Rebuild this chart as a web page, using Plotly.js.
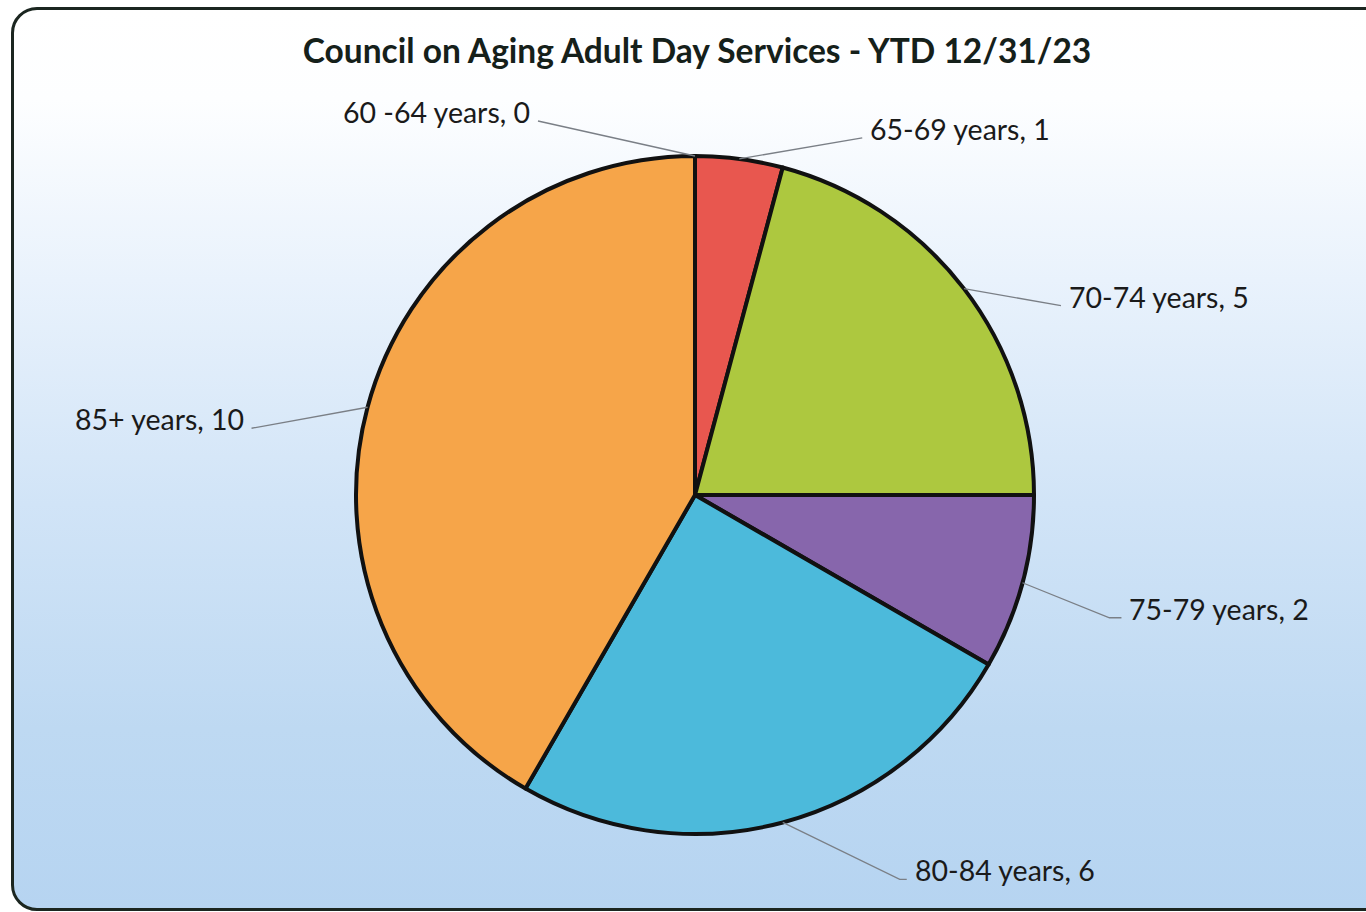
<!DOCTYPE html>
<html>
<head>
<meta charset="utf-8">
<script src="https://cdn.plot.ly/plotly-3.0.1.min.js"></script>
<style>
  html, body { margin: 0; padding: 0; background: #ffffff; }
  #wrap { position: relative; width: 1366px; height: 912px; overflow: hidden; background: #ffffff; }
  #frame {
    position: absolute; left: 11px; top: 7px; width: 1420px; height: 898px;
    border: 3px solid #1b2620; border-radius: 26px;
    background: linear-gradient(to bottom, #ffffff 0%, #fdfeff 10%, #e9f2fc 30%, #d1e4f7 55%, #bed9f2 80%, #b6d4f1 100%);
  }
  #chart { position: absolute; left: 0; top: 0; width: 1366px; height: 912px; }
</style>
</head>
<body>
<div id="wrap">
  <div id="frame"></div>
  <div id="chart"></div>
</div>
<script>
// ---- data ----
const categories = ["60 -64 years", "65-69 years", "70-74 years", "75-79 years", "80-84 years", "85+ years"];
const counts = [0, 1, 5, 2, 6, 10];
const sliceColors = ["#c0504d", "#e8574f", "#adc83f", "#8766ac", "#4cbadb", "#f6a549"];
const chartTitle = "Council on Aging Adult Day Services - YTD 12/31/23";

// ---- label placement (pixel offsets from each slice's outer-edge midpoint) ----
const leaderTail = [[-157, -35], [123, -21], [97, 17], [99, 35], [124, 57], [-116, 21]];
const leaderBend = [null, null, null, [87, 35], [117, 57], null];

// ---- geometry ----
const W = 1366, H = 912;
const CX = 695, CY = 495, R = 339;

const total = counts.reduce((a, b) => a + b, 0);
let cum = 0;
const shapes = [];
const annotations = [];
const px = x => x / W;
const py = y => 1 - y / H;
counts.forEach((v, i) => {
  const mid = (cum + v / 2) / total * 2 * Math.PI;
  cum += v;
  const ex = CX + R * Math.sin(mid);
  const ey = CY - R * Math.cos(mid);
  const tx = ex + leaderTail[i][0];
  const ty = ey + leaderTail[i][1];
  let path = `M ${px(ex)} ${py(ey)}`;
  if (leaderBend[i]) {
    path += ` L ${px(ex + leaderBend[i][0])} ${py(ey + leaderBend[i][1])}`;
  }
  path += ` L ${px(tx)} ${py(ty)}`;
  shapes.push({
    type: 'path', xref: 'paper', yref: 'paper', path: path,
    line: { color: '#7a7f86', width: 1.3 }
  });
  const right = tx > CX;
  annotations.push({
    xref: 'paper', yref: 'paper',
    x: px(tx + (right ? 6 : -6)), y: py(ty - 9),
    xanchor: right ? 'left' : 'right', yanchor: 'middle',
    text: categories[i] + ', ' + counts[i],
    showarrow: false,
    font: { family: 'Lato, "Open Sans", sans-serif', size: 28.5, color: '#1a1a1a' }
  });
});

const trace = {
  type: 'pie',
  labels: categories,
  values: counts,
  sort: false,
  direction: 'clockwise',
  rotation: 0,
  textinfo: 'none',
  hoverinfo: 'label+value',
  marker: { colors: sliceColors, line: { color: '#111111', width: 4 } },
  domain: { x: [px(CX - R), px(CX + R)], y: [py(CY + R), py(CY - R)] },
  showlegend: false
};

const layout = {
  width: W, height: H,
  margin: { l: 0, r: 0, t: 0, b: 0 },
  paper_bgcolor: 'rgba(0,0,0,0)',
  plot_bgcolor: 'rgba(0,0,0,0)',
  showlegend: false,
  title: {
    text: chartTitle,
    x: 697 / W, xanchor: 'center',
    y: 1 - 51 / H, yanchor: 'middle',
    font: { family: 'Lato, "Open Sans", sans-serif', size: 33.5, color: '#15201a', weight: 'bold' }
  },
  shapes: shapes,
  annotations: annotations
};

Plotly.newPlot('chart', [trace], layout, { displayModeBar: false, staticPlot: true });
</script>
</body>
</html>
